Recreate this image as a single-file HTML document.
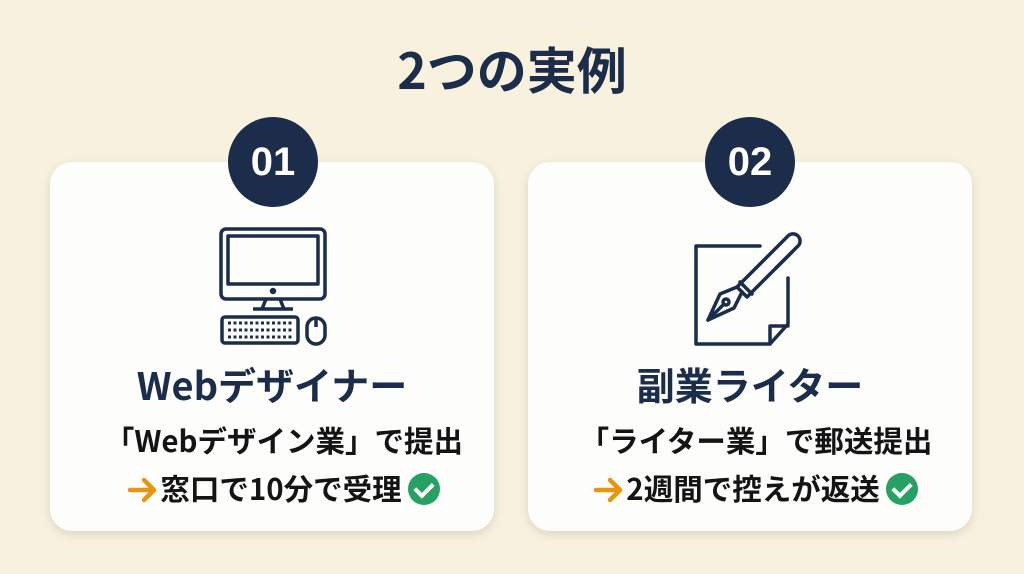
<!DOCTYPE html><html><head><meta charset="utf-8"><style>
body{margin:0;width:1024px;height:574px;background:#f8f1de;font-family:"Noto Sans CJK JP","Liberation Sans",sans-serif;position:relative;overflow:hidden}
.t{position:absolute;left:0;width:1024px;top:36px;text-align:center;font-size:50px;font-weight:bold;color:#1b2d4a;line-height:64px}
.card{position:absolute;top:162px;width:444px;height:369px;background:#fdfdfc;border-radius:22px;box-shadow:0 3px 10px rgba(0,0,0,.12)}
.b{position:absolute;top:117px;width:90px;height:90px;border-radius:50%;background:#1b2d4a;color:#fff;font-size:40px;font-weight:bold;text-align:center;line-height:90px;font-family:"Liberation Sans",sans-serif}
.n{position:absolute;top:359px;width:444px;text-align:center;font-size:38px;font-weight:bold;color:#1b2d4a;line-height:50px}
.l{position:absolute;width:444px;text-align:center;font-size:29.5px;font-weight:bold;color:#141414;line-height:40px;white-space:nowrap}
.ar{display:inline-block;vertical-align:-3px;margin-right:2px}
.ck{display:inline-block;width:32px;height:32px;border-radius:50%;background:#27a163;vertical-align:-5px;margin-left:6px;position:relative}
.ck:after{content:"";position:absolute;left:10px;top:6px;width:8px;height:14px;border:solid #fff;border-width:0 4px 4px 0;transform:rotate(45deg)}
</style></head><body>
<div class="t">2つの実例</div>
<div class="card" style="left:50px"></div>
<div class="card" style="left:528px"></div>
<div class="b" style="left:228px">01</div>
<div class="b" style="left:705px">02</div>
<svg style="position:absolute;left:200px;top:220px" width="140" height="130" viewBox="0 0 140 130" fill="none" stroke="#1b2d4a" stroke-width="3.5" stroke-linejoin="round">
<rect x="21" y="9" width="104" height="70" rx="5"/><rect x="28" y="16" width="90" height="48"/>
<circle cx="73" cy="71" r="1.5" fill="#1b2d4a"/>
<path d="M66 79 L62 89 M80 79 L84 89 M53 89 H93"/>
<rect x="22" y="97" width="76" height="26" rx="3"/>
<path d="M28 103h64M28 110h64M28 117h64" stroke-width="3" stroke-dasharray="3 2.5"/>
<rect x="107" y="98" width="18" height="26" rx="9"/><path d="M116 98v9"/>
</svg>
<svg style="position:absolute;left:680px;top:220px" width="130" height="130" viewBox="0 0 130 130" fill="none" stroke="#1b2d4a" stroke-width="3.5" stroke-linejoin="round" stroke-linecap="round">
<path d="M80 26 H16 V124 H90 L108 104 V58"/><path d="M90 124 V106 H108"/>
<path d="M57 67 L108 16 a6 6 0 0 1 10 10 L67 77 Z"/>
<path d="M60 62 L72 74"/><path d="M112 32 L96 48"/>
<path d="M57 67 L40 74 L28 100 L54 88 L62 72"/><path d="M28 100 L44 84"/><circle cx="46" cy="82" r="3"/>
</svg>
<div class="n" style="left:50px">Webデザイナー</div>
<div class="n" style="left:528px">副業ライター</div>
<div class="l" style="left:62px;top:420px">「Webデザイン業」で提出</div>
<div class="l" style="left:62px;top:468px"><svg class="ar" width="30" height="26" viewBox="0 0 30 26"><path d="M2 13H26M16 3L26 13L16 23" fill="none" stroke="#e8960f" stroke-width="4.5" stroke-linecap="round" stroke-linejoin="round"/></svg>窓口で10分で受理<span class="ck"></span></div>
<div class="l" style="left:534px;top:420px">「ライター業」で郵送提出</div>
<div class="l" style="left:534px;top:468px"><svg class="ar" width="30" height="26" viewBox="0 0 30 26"><path d="M2 13H26M16 3L26 13L16 23" fill="none" stroke="#e8960f" stroke-width="4.5" stroke-linecap="round" stroke-linejoin="round"/></svg>2週間で控えが返送<span class="ck"></span></div>
</body></html>
